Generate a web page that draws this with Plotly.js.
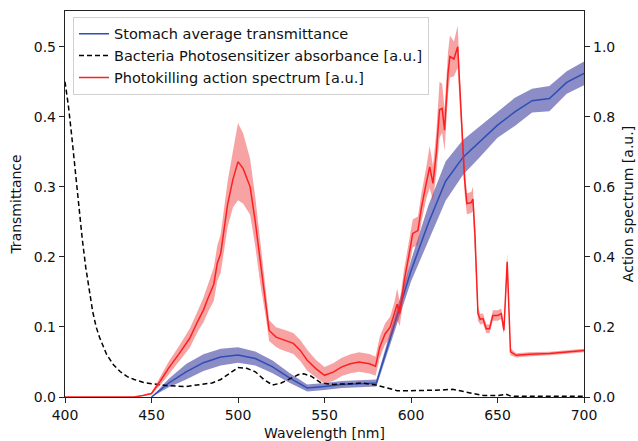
<!DOCTYPE html>
<html>
<head>
<meta charset="utf-8">
<script src="https://cdn.plot.ly/plotly-3.0.1.min.js"></script>
<style>html,body{margin:0;padding:0;background:#fff}#chart{width:638px;height:441px}</style>
</head>
<body>
<div id="chart"></div>
<script>
// Stomach average transmittance (left axis)
const stomachWl = [450,460,470,480,490,500,510,520,530,540,550,560,570,580,590,600,610,620,630,640,650,660,670,680,690,700];
const stomachMean = [0.0,0.02,0.036,0.049,0.057,0.060,0.055,0.043,0.027,0.013,0.015,0.018,0.019,0.020,0.100,0.180,0.248,0.308,0.342,0.365,0.388,0.407,0.423,0.426,0.449,0.462];
const stomachSd = [0.0,0.006,0.011,0.012,0.012,0.011,0.010,0.009,0.007,0.005,0.005,0.005,0.005,0.005,0.010,0.015,0.025,0.028,0.025,0.022,0.018,0.020,0.017,0.018,0.016,0.017];

// Bacteria photosensitizer absorbance (left axis scale)
const absWl = [400,402,404,406,408,410,412,414,416,418,420,424,428,432,436,440,445,450,455,460,470,480,485,490,495,500,505,510,515,520,525,530,535,538,542,548,555,565,572,580,586,592,600,610,618,624,630,636,642,650,655,658,700];
const absVal = [0.45,0.415,0.37,0.32,0.27,0.225,0.185,0.15,0.122,0.10,0.085,0.061,0.046,0.036,0.029,0.025,0.021,0.019,0.017,0.016,0.015,0.018,0.02,0.025,0.033,0.042,0.041,0.036,0.025,0.017,0.02,0.026,0.032,0.033,0.03,0.02,0.018,0.019,0.02,0.017,0.013,0.009,0.009,0.009,0.01,0.011,0.008,0.004,0.002,0.002,0.004,0.001,0.001];

// Photokilling action spectrum (right axis)
const actWl = [400,440,445,450,455,460,466,472,477,480,483,486,488,490,492,494,497,500,503,507,510,513,516,518,522,525,528,532,536,540,545,550,555,560,565,570,576,579.5,582,585,588,590.5,592,593.5,596,599,601,604,606,608.8,610.8,612.7,614.6,616.5,618,619.4,621.4,622.5,624.8,627,629,631,632.3,634.8,635.8,637,638.7,640,641.6,643.5,645.4,647.3,650.2,652.2,653.7,655.6,657.5,660.8,668.5,680,700];
const actMean = [0,0,0.004,0.01,0.045,0.083,0.124,0.167,0.219,0.248,0.286,0.322,0.381,0.41,0.48,0.55,0.62,0.672,0.652,0.60,0.50,0.38,0.27,0.19,0.171,0.165,0.16,0.153,0.133,0.105,0.081,0.062,0.071,0.086,0.095,0.10,0.095,0.088,0.143,0.18,0.20,0.238,0.265,0.238,0.33,0.41,0.467,0.475,0.54,0.61,0.657,0.61,0.695,0.82,0.824,0.762,0.924,0.972,0.965,1.0,0.79,0.62,0.552,0.555,0.565,0.46,0.238,0.222,0.224,0.195,0.195,0.233,0.233,0.238,0.19,0.386,0.129,0.119,0.122,0.124,0.133];
const actSd = [0,0,0.001,0.003,0.012,0.018,0.022,0.027,0.03,0.035,0.04,0.048,0.05,0.055,0.06,0.065,0.08,0.11,0.10,0.08,0.07,0.06,0.04,0.03,0.028,0.03,0.03,0.03,0.03,0.03,0.025,0.024,0.025,0.026,0.027,0.028,0.028,0.027,0.03,0.03,0.03,0.035,0.045,0.035,0.035,0.04,0.04,0.04,0.04,0.045,0.06,0.05,0.06,0.08,0.07,0.06,0.06,0.06,0.05,0.06,0.04,0.04,0.03,0.03,0.035,0.03,0.02,0.015,0.015,0.012,0.012,0.015,0.015,0.015,0.01,0.025,0.01,0.006,0.006,0.005,0.005];

const legendNames = ["Stomach average transmittance","Bacteria Photosensitizer absorbance [a.u.]","Photokilling action spectrum [a.u.]"];

function band(x, m, s, yaxis, color){
  const up = m.map((v,i)=>v+s[i]);
  const lo = m.map((v,i)=>v-s[i]);
  return {x: x.concat(x.slice().reverse()), y: up.concat(lo.slice().reverse()),
    type:'scatter', mode:'lines', fill:'toself', fillcolor:color, line:{width:0},
    hoverinfo:'skip', showlegend:false, yaxis:yaxis};
}

const traces = [
  band(stomachWl, stomachMean, stomachSd, 'y', 'rgba(0,0,128,0.45)'),
  {x: stomachWl, y: stomachMean, type:'scatter', mode:'lines', name: legendNames[0], line:{color:'#2c4fb5', width:1.5}},
  {x: absWl, y: absVal, type:'scatter', mode:'lines', name: legendNames[1], line:{color:'#000', width:1.5, dash:'5px,3px'}},
  band(actWl, actMean, actSd, 'y2', 'rgba(238,50,50,0.45)'),
  {x: actWl, y: actMean, type:'scatter', mode:'lines', name: legendNames[2], yaxis:'y2', line:{color:'#ff1f1f', width:1.5}}
];

const axFont = {family:'DejaVu Sans, sans-serif', size:14, color:'#111'};
const layout = {
  width:638, height:441,
  margin:{l:65, r:54, t:11, b:44},
  paper_bgcolor:'#fff', plot_bgcolor:'#fff',
  font: axFont,
  showlegend:true,
  legend:{x:0.0154, y:0.985, xanchor:'left', yanchor:'top', bgcolor:'rgba(255,255,255,0.85)', bordercolor:'#d0d0d0', borderwidth:1, font:{family:'DejaVu Sans, sans-serif', size:14.5, color:'#111'}, itemwidth:30, tracegroupgap:0},
  xaxis:{range:[400,700], tickvals:[400,450,500,550,600,650,700], ticks:'outside', ticklen:5, tickcolor:'#222', showline:true, linecolor:'#222', linewidth:1.2, mirror:true, showgrid:false, zeroline:false,
    title:{text:'Wavelength [nm]', font:axFont, standoff:6}, tickfont:axFont},
  yaxis:{range:[0,0.551], tickvals:[0,0.1,0.2,0.3,0.4,0.5], tickformat:'.1f', ticks:'outside', ticklen:5, tickcolor:'#222', showline:true, linecolor:'#222', linewidth:1.2, showgrid:false, zeroline:false,
    title:{text:'Transmittance', font:axFont, standoff:8}, tickfont:axFont},
  yaxis2:{range:[0,1.102], overlaying:'y', side:'right', tickvals:[0,0.2,0.4,0.6,0.8,1.0], tickformat:'.1f', ticks:'outside', ticklen:5, tickcolor:'#222', showline:true, linecolor:'#222', linewidth:1.2, showgrid:false, zeroline:false,
    title:{text:'Action spectrum [a.u.]', font:axFont, standoff:8}, tickfont:axFont}
};

Plotly.newPlot('chart', traces, layout, {displayModeBar:false, staticPlot:true});
</script>
</body>
</html>
